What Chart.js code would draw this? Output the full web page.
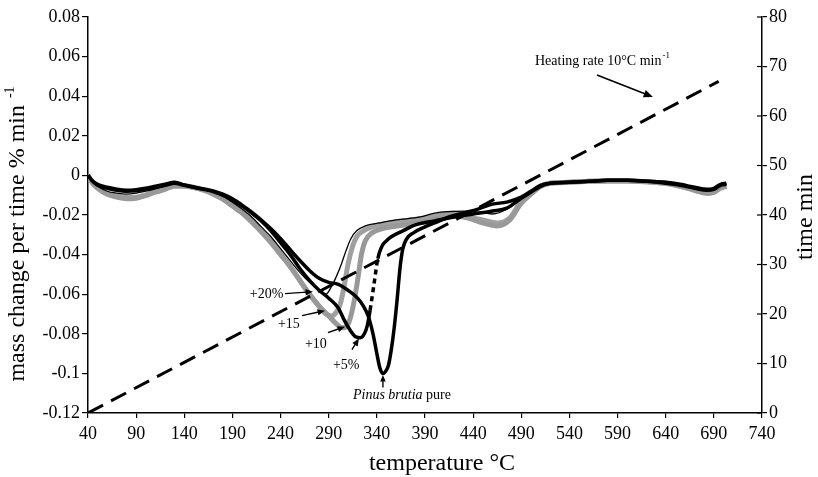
<!DOCTYPE html>
<html>
<head>
<meta charset="utf-8">
<script src="https://cdn.jsdelivr.net/npm/chart.js@4.4.0/dist/chart.umd.min.js"></script>
<style>
html,body{margin:0;padding:0;background:#fff;}
canvas{display:block;}
</style>
</head>
<body>
<canvas id="c" width="818" height="477"></canvas>
<script>
// ---- data (temperature °C, mass change per time % min-1) ----
const pureT = [40,45,50,60,70,80,90,100,110,120,130,140,150,160,170,180,190,200,210,220,230,240,250,260,270,280,290,300,310,320,326,331,336,340,343,346,349,352,355,358,361,364,367,371,378,390,400,415,430,445,460,475,490,500,510,520,540,560,580,600,620,640,655,670,683,690,697,703];
const pureV = [0,-0.003,-0.0045,-0.006,-0.007,-0.0075,-0.0072,-0.0065,-0.0055,-0.0045,-0.0035,-0.0048,-0.006,-0.0068,-0.0078,-0.0095,-0.0118,-0.015,-0.0185,-0.0225,-0.027,-0.032,-0.0375,-0.043,-0.048,-0.052,-0.054,-0.055,-0.058,-0.062,-0.066,-0.071,-0.080,-0.090,-0.097,-0.100,-0.099,-0.096,-0.088,-0.077,-0.063,-0.047,-0.037,-0.032,-0.029,-0.026,-0.024,-0.021,-0.019,-0.017,-0.0145,-0.0135,-0.011,-0.008,-0.005,-0.004,-0.0035,-0.003,-0.0025,-0.0025,-0.003,-0.0035,-0.0045,-0.006,-0.007,-0.0065,-0.0045,-0.004];

const fiveT = [40,45,50,60,70,80,90,100,110,120,130,140,150,160,170,180,190,200,210,220,230,240,250,260,270,280,290,300,306,312,318,323,327,330,333,337,341,345,350,355,367,380,400,420,440,460,475,490,500,510,520,540,560,580,600,620,640,655,670,683,690,697,703];
const fiveV = [0,-0.003,-0.005,-0.0065,-0.0075,-0.008,-0.0078,-0.007,-0.006,-0.005,-0.004,-0.005,-0.006,-0.007,-0.0082,-0.01,-0.0125,-0.0155,-0.019,-0.023,-0.028,-0.034,-0.040,-0.047,-0.053,-0.058,-0.062,-0.067,-0.073,-0.078,-0.0815,-0.082,-0.080,-0.076,-0.068,-0.055,-0.042,-0.036,-0.033,-0.031,-0.028,-0.025,-0.023,-0.021,-0.0195,-0.018,-0.0165,-0.0115,-0.0085,-0.0055,-0.004,-0.0035,-0.003,-0.0025,-0.0025,-0.003,-0.004,-0.005,-0.0065,-0.0075,-0.007,-0.005,-0.0045];

const tenT = [40,45,50,60,70,80,90,100,110,120,130,140,150,160,170,180,190,200,210,220,230,240,250,260,270,280,290,298,304,309,313,317,320,324,328,335,345,370,400,420,435,450,465,478,490,500,510,520,540,560,580,600,620,640,655,670,683,690,697,703];
const tenV = [0,-0.004,-0.0065,-0.0095,-0.011,-0.0118,-0.0115,-0.0102,-0.0085,-0.007,-0.0055,-0.0055,-0.0062,-0.0075,-0.0095,-0.012,-0.0155,-0.019,-0.0235,-0.0285,-0.034,-0.040,-0.046,-0.053,-0.060,-0.066,-0.071,-0.075,-0.077,-0.076,-0.071,-0.062,-0.053,-0.040,-0.033,-0.029,-0.027,-0.025,-0.0225,-0.0205,-0.0215,-0.024,-0.0255,-0.0225,-0.014,-0.0095,-0.0055,-0.004,-0.0035,-0.003,-0.0028,-0.0028,-0.0032,-0.004,-0.0055,-0.0075,-0.009,-0.0085,-0.006,-0.0055];

const fifteenT = [40,45,50,60,70,80,90,100,110,120,130,140,150,160,170,180,190,200,210,220,230,240,250,260,270,280,287,293,298,302,306,310,314,319,326,335,360,390,420,435,450,465,478,490,500,510,520,540,560,580,600,620,640,655,670,683,690,697,703];
const fifteenV = [0,-0.004,-0.006,-0.009,-0.0105,-0.0112,-0.011,-0.0098,-0.008,-0.0065,-0.005,-0.0052,-0.006,-0.0072,-0.009,-0.0115,-0.015,-0.0185,-0.023,-0.028,-0.0335,-0.0395,-0.046,-0.053,-0.060,-0.066,-0.070,-0.071,-0.069,-0.065,-0.056,-0.045,-0.037,-0.031,-0.028,-0.026,-0.0235,-0.0215,-0.019,-0.021,-0.0225,-0.024,-0.0215,-0.013,-0.009,-0.0055,-0.004,-0.0035,-0.003,-0.0028,-0.0028,-0.0032,-0.004,-0.0055,-0.0075,-0.009,-0.0085,-0.0065,-0.0055];

const twentyT = [40,45,50,60,70,80,90,100,110,120,130,140,150,160,170,180,190,200,210,220,230,240,250,260,270,280,287,293,298,303,308,313,319,328,343,360,385,400,430,445,460,475,490,500,510,520,540,560,580,600,620,640,655,670,683,690,697,703];
const twentyV = [0,-0.0035,-0.0055,-0.008,-0.009,-0.0095,-0.009,-0.008,-0.0068,-0.0055,-0.0042,-0.005,-0.006,-0.007,-0.0085,-0.0105,-0.0135,-0.017,-0.021,-0.026,-0.031,-0.037,-0.043,-0.049,-0.054,-0.058,-0.060,-0.056,-0.051,-0.045,-0.038,-0.032,-0.028,-0.0255,-0.024,-0.0225,-0.021,-0.019,-0.018,-0.0185,-0.0195,-0.017,-0.011,-0.008,-0.005,-0.0038,-0.0033,-0.003,-0.0027,-0.0027,-0.003,-0.0038,-0.005,-0.0065,-0.0075,-0.007,-0.005,-0.0045];

// heating programme (temperature °C vs time min)
const heatT = [40, 695];
const heatTime = [0, 67];

// axis ranges / ticks
const xRange = [40, 740], xStep = 50;
const yRange = [-0.12, 0.08], yStep = 0.02;
const y2Range = [0, 80], y2Step = 10;

const FONT = "'Liberation Serif','Times New Roman',serif";

function pts(T, V){ return T.map((t,i)=>({x:t, y:V[i]})); }

// annotation label positions (data coordinates)
const notes = [
  {text:'+20%', x:208, y:-0.0602, ax1:[244.6,-0.0597], ax2:[273.6,-0.0587]},
  {text:'+15',  x:237.3, y:-0.0754, ax1:[262.2,-0.0708], ax2:[286.1,-0.0683]},
  {text:'+10',  x:265.3, y:-0.0854, ax1:[289.2,-0.0794], ax2:[306.9,-0.0764]},
  {text:'+5%',  x:294.4, y:-0.0960, ax1:[314.1,-0.0880], ax2:[321.4,-0.0824]}
];

function arrow(ctx, x1,y1,x2,y2, head){
  const a = Math.atan2(y2-y1, x2-x1);
  ctx.beginPath();
  ctx.moveTo(x1,y1);
  ctx.lineTo(x2 - Math.cos(a)*head*0.8, y2 - Math.sin(a)*head*0.8);
  ctx.stroke();
  ctx.beginPath();
  ctx.moveTo(x2,y2);
  ctx.lineTo(x2 - head*Math.cos(a-0.4), y2 - head*Math.sin(a-0.4));
  ctx.lineTo(x2 - head*Math.cos(a+0.4), y2 - head*Math.sin(a+0.4));
  ctx.closePath();
  ctx.fill();
}

const extras = {
  id:'extras',
  afterDraw(chart){
    const ctx = chart.ctx;
    const xs = chart.scales.x, ys = chart.scales.y, y2 = chart.scales.y2;
    const ca = chart.chartArea;
    ctx.save();
    ctx.fillStyle = '#000';
    ctx.strokeStyle = '#000';
    // inner tick marks on right axis
    ctx.lineWidth = 1.2;
    y2.ticks.forEach(t=>{
      const py = y2.getPixelForValue(t.value);
      ctx.beginPath(); ctx.moveTo(ca.right-5, py); ctx.lineTo(ca.right, py); ctx.stroke();
    });
    // annotations
    ctx.font = '14px ' + FONT;
    ctx.textBaseline = 'middle';
    ctx.textAlign = 'left';
    ctx.lineWidth = 1.4;
    notes.forEach(n=>{
      ctx.fillText(n.text, xs.getPixelForValue(n.x), ys.getPixelForValue(n.y));
      arrow(ctx, xs.getPixelForValue(n.ax1[0]), ys.getPixelForValue(n.ax1[1]),
                 xs.getPixelForValue(n.ax2[0]), ys.getPixelForValue(n.ax2[1]), 8);
    });
    // Pinus brutia pure
    let px = xs.getPixelForValue(315.2), py = ys.getPixelForValue(-0.1112);
    ctx.font = 'italic 14px ' + FONT;
    ctx.fillText('Pinus brutia', px, py);
    let w = ctx.measureText('Pinus brutia').width;
    ctx.font = '14px ' + FONT;
    ctx.fillText(' pure', px + w, py);
    arrow(ctx, xs.getPixelForValue(346.3), ys.getPixelForValue(-0.1071),
               xs.getPixelForValue(346.3), ys.getPixelForValue(-0.1008), 7);
    // heating rate label
    px = xs.getPixelForValue(504.2); py = ys.getPixelForValue(0.0578);
    ctx.font = '14px ' + FONT;
    ctx.fillText('Heating rate 10°C min', px, py);
    w = ctx.measureText('Heating rate 10°C min').width;
    ctx.font = '9px ' + FONT;
    ctx.fillText('-1', px + w + 1, py - 5);
    ctx.lineWidth = 1.6;
    arrow(ctx, xs.getPixelForValue(568.6), ys.getPixelForValue(0.0507),
               xs.getPixelForValue(626.7), ys.getPixelForValue(0.0396), 10);
    // axis titles
    ctx.font = '24px ' + FONT;
    ctx.textAlign = 'center';
    ctx.fillText('temperature °C', 442, 464);
    // left title (rotated)
    ctx.save();
    ctx.translate(18, 234);
    ctx.rotate(-Math.PI/2);
    const main = 'mass change per time % min';
    ctx.font = '24px ' + FONT;
    const mw = ctx.measureText(main).width;
    ctx.font = '14px ' + FONT;
    const sw = ctx.measureText('  -1').width;
    const total = mw + sw;
    ctx.textAlign = 'left';
    ctx.font = '24px ' + FONT;
    ctx.fillText(main, -total/2, 0);
    ctx.font = '14px ' + FONT;
    ctx.fillText('  -1', -total/2 + mw, -8);
    ctx.restore();
    // right title
    ctx.save();
    ctx.translate(806, 217);
    ctx.rotate(-Math.PI/2);
    ctx.font = '24px ' + FONT;
    ctx.textAlign = 'center';
    ctx.fillText('time min', 0, 0);
    ctx.restore();
    ctx.restore();
  }
};

const base = {pointRadius:0, fill:false, cubicInterpolationMode:'monotone', yAxisID:'y'};

new Chart(document.getElementById('c'), {
  type:'line',
  data:{
    datasets:[
      {label:'heating', data:pts(heatT, heatTime), borderColor:'#000', borderWidth:3, borderDash:[17,9], yAxisID:'y2', order:0, pointRadius:0, fill:false, tension:0},
      Object.assign({}, base, {label:'Pinus brutia pure', data:pts(pureT, pureV), borderColor:'#000', borderWidth:3.5, order:1}),
      Object.assign({}, base, {label:'+5%', data:pts(fiveT, fiveV), borderColor:'#000', borderWidth:3.5, order:2,
        segment:{borderDash: c => (c.p0.parsed.x >= 333 && c.p1.parsed.x <= 341) ? [5,4] : undefined}}),
      Object.assign({}, base, {label:'+20%', data:pts(twentyT, twentyV), borderColor:'#000', borderWidth:1.3, order:3}),
      Object.assign({}, base, {label:'+10%', data:pts(tenT, tenV), borderColor:'#999999', borderWidth:5, order:4}),
      Object.assign({}, base, {label:'+15%', data:pts(fifteenT, fifteenV), borderColor:'#a0a0a0', borderWidth:5, order:5})
    ]
  },
  options:{
    responsive:false,
    animation:false,
    devicePixelRatio:1,
    layout:{padding:{top:17, right:0, bottom:0, left:0}},
    plugins:{legend:{display:false}, tooltip:{enabled:false}},
    scales:{
      x:{
        type:'linear', min:xRange[0], max:xRange[1],
        ticks:{stepSize:xStep, color:'#000', font:{family:FONT, size:18}, padding:5, maxRotation:0, autoSkip:false},
        grid:{drawOnChartArea:false, drawTicks:true, tickLength:5, color:'#000', lineWidth:1.2},
        border:{color:'#000', width:1.5},
        afterFit(s){ s.height = 64; }
      },
      y:{
        position:'left', min:yRange[0], max:yRange[1],
        ticks:{stepSize:yStep, color:'#000', font:{family:FONT, size:18}, padding:2,
          callback:v => String(parseFloat(v.toFixed(2)))},
        grid:{drawOnChartArea:false, drawTicks:true, tickLength:6, color:'#000', lineWidth:1.2},
        border:{color:'#000', width:1.5},
        afterFit(s){ s.width = 88; }
      },
      y2:{
        position:'right', min:y2Range[0], max:y2Range[1],
        ticks:{stepSize:y2Step, color:'#000', font:{family:FONT, size:18}, padding:2},
        grid:{drawOnChartArea:false, drawTicks:true, tickLength:5, color:'#000', lineWidth:1.2},
        border:{color:'#000', width:1.5},
        afterFit(s){ s.width = 56; }
      }
    }
  },
  plugins:[extras]
});
</script>
</body>
</html>
